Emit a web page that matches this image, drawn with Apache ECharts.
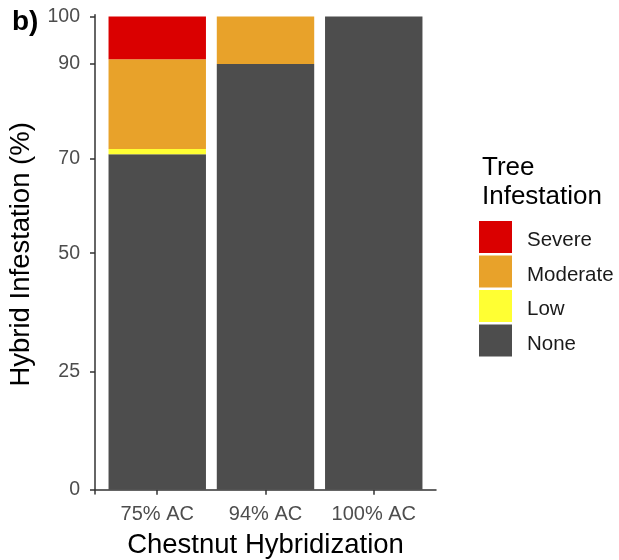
<!DOCTYPE html>
<html>
<head>
<meta charset="utf-8">
<script src="https://cdn.jsdelivr.net/npm/echarts@6/dist/echarts.min.js"></script>
<style>html,body{margin:0;padding:0;background:#fff;}#c{width:619px;height:560px;}</style>
</head>
<body>
<div id="c"></div>
<script>
// ---- data ----
const categories = ["75% AC", "94% AC", "100% AC"];
const noneValues = [70.9, 90, 100];
const lowValues = [1.1, 0, 0];
const moderateValues = [19, 10, 0];
const severeValues = [9, 0, 0];
const yTicks = [0, 25, 50, 70, 90, 100];
const legendOrder = ["Severe", "Moderate", "Low", "None"];

const FONT = "Liberation Sans, Arial, Helvetica, sans-serif";
const colors = { None: "#4D4D4D", Low: "#FFFF33", Moderate: "#E8A22A", Severe: "#DA0000" };

const seriesDefs = [
  { name: "None", vals: noneValues },
  { name: "Low", vals: lowValues },
  { name: "Moderate", vals: moderateValues },
  { name: "Severe", vals: severeValues }
];

// layout: outer frame (axis lines) and inner band grid (ggplot 0.6 expansion)
const outerLeft = 95, outerRight = 183, gridTop = 14.7, gridBottom = 66;
const outerWidth = 619 - outerLeft - outerRight;
const unit = outerWidth / (categories.length + 1.2);
const innerLeft = outerLeft + 0.1 * unit, innerRight = outerRight + 0.1 * unit;
const yMin = -0.9, yMax = 100.4;
const axisLineStyle = { color: "#333", width: 1.5 };

const chart = echarts.init(document.getElementById("c"), null, { renderer: "canvas" });
chart.setOption({
  animation: false,
  backgroundColor: "#fff",
  textStyle: { fontFamily: FONT },
  title: [
    { text: "b)", left: 7, top: 3, textStyle: { fontFamily: FONT, fontSize: 28, fontWeight: "bold", color: "#000" } },
    { text: "Tree\nInfestation", left: 477, top: 148, textStyle: { fontFamily: FONT, fontSize: 26, fontWeight: "normal", color: "#000", lineHeight: 29 } }
  ],
  legend: {
    orient: "vertical", left: 479, top: 221, padding: 0,
    data: legendOrder, icon: "rect",
    itemWidth: 33, itemHeight: 32, itemGap: 2.5,
    formatter: name => "{t|" + name + "}",
    textStyle: {
      fontFamily: FONT, fontSize: 20.5, color: "#1a1a1a",
      rich: { t: { fontFamily: FONT, fontSize: 20.5, color: "#1a1a1a", padding: [7, 0, 0, 10] } }
    },
    selectedMode: false
  },
  grid: [
    { left: innerLeft, right: innerRight, top: gridTop, bottom: gridBottom, containLabel: false, outerBoundsMode: "none" },
    { left: outerLeft, right: outerRight, top: gridTop, bottom: gridBottom, containLabel: false, outerBoundsMode: "none" }
  ],
  xAxis: [
    {
      gridIndex: 0, type: "category", data: categories, boundaryGap: true,
      axisLine: { show: false },
      axisTick: { show: true, alignWithLabel: true, length: 5, lineStyle: axisLineStyle },
      axisLabel: { fontFamily: FONT, fontSize: 20, color: "#4D4D4D", margin: 10, interval: 0 },
      splitLine: { show: false },
      name: "Chestnut Hybridization", nameLocation: "middle", nameGap: 37,
      nameTextStyle: { fontFamily: FONT, fontSize: 27.5, color: "#000" }
    },
    {
      gridIndex: 1, type: "value", min: 0, max: 1,
      axisLine: { show: true, lineStyle: axisLineStyle },
      axisTick: { show: false }, axisLabel: { show: false }, splitLine: { show: false }
    }
  ],
  yAxis: [
    {
      gridIndex: 0, type: "value", min: yMin, max: yMax,
      axisLine: { show: false }, axisTick: { show: false }, axisLabel: { show: false }, splitLine: { show: false }
    },
    {
      gridIndex: 1, type: "value", min: yMin, max: yMax,
      splitLine: { show: false },
      axisLine: { show: true, lineStyle: axisLineStyle },
      axisTick: { show: true, length: 5, lineStyle: axisLineStyle, customValues: yTicks },
      axisLabel: { customValues: yTicks, fontFamily: FONT, fontSize: 19.5, color: "#4D4D4D", margin: 15 },
      name: "Hybrid Infestation (%)", nameLocation: "middle", nameGap: 60,
      nameTextStyle: { fontFamily: FONT, fontSize: 27.5, color: "#000" }
    }
  ],
  series: seriesDefs.map(s => ({
    name: s.name, type: "bar", stack: "total",
    xAxisIndex: 0, yAxisIndex: 0,
    data: s.vals, barWidth: "90%",
    itemStyle: { color: colors[s.name] },
    emphasis: { disabled: true }
  }))
});
</script>
</body>
</html>
